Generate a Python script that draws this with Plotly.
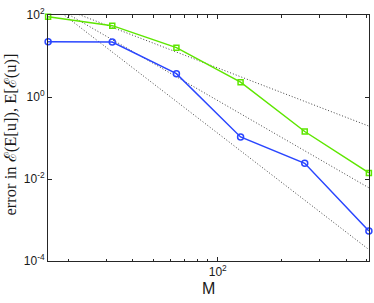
import math
import plotly.graph_objects as go

M = [16, 32, 64, 128, 256, 512]
err_E_of_mean = [91, 55, 16, 2.3, 0.144, 0.0141]      # green, squares
err_mean_of_E = [22.4, 22.0, 3.7, 0.106, 0.0242, 0.00054]  # blue, circles

ref_M = [16, 512]
ref_rate2 = [200, 0.195]
ref_rate3 = [200, 0.0061]
ref_rate4 = [200, 0.00019]

x_minor = [20, 30, 40, 50, 60, 70, 80, 90, 200, 300, 400, 500]
x_ticks = [100]
x_ticktext = ["10<sup>2</sup>"]
y_ticks = [1e-4, 1e-2, 1e0, 1e2]
y_ticktext = ["10<sup>-4</sup>", "10<sup>-2</sup>", "10<sup>0</sup>", "10<sup>2</sup>"]

GREEN = "#5ee600"
BLUE = "#2a46ff"
AX = "#262626"

fig = go.Figure()
for ref in (ref_rate2, ref_rate3, ref_rate4):
    fig.add_trace(go.Scatter(x=ref_M, y=ref, mode="lines",
                             line=dict(color="#444444", width=1, dash="1px,2px"),
                             hoverinfo="skip", showlegend=False))

fig.add_trace(go.Scatter(x=M, y=err_E_of_mean, mode="lines+markers",
                         line=dict(color=GREEN, width=1.5),
                         marker=dict(symbol="square-open", size=5, color=GREEN,
                                     line=dict(width=1.5, color=GREEN)),
                         cliponaxis=False, showlegend=False))
fig.add_trace(go.Scatter(x=M, y=err_mean_of_E, mode="lines+markers",
                         line=dict(color=BLUE, width=1.5),
                         marker=dict(symbol="circle-open", size=6, color=BLUE,
                                     line=dict(width=1.5, color=BLUE)),
                         cliponaxis=False, showlegend=False))

axis_common = dict(showline=True, linecolor=AX, linewidth=1, mirror="ticks",
                   ticks="inside", ticklen=4, tickcolor=AX, tickwidth=1,
                   showgrid=False, zeroline=False,
                   tickfont=dict(family="Liberation Sans, Arial", size=12, color="#1a1a1a"))

xr = [math.log10(M[0]) - 0.0005, math.log10(M[-1]) + 0.0005]
fig.update_xaxes(type="log", range=xr,
                 tickmode="array", tickvals=x_ticks, ticktext=x_ticktext,
                 minor=dict(tickmode="array", tickvals=x_minor, ticks="inside",
                            ticklen=2.5, tickcolor=AX, tickwidth=1),
                 **axis_common)
fig.update_yaxes(type="log", range=[-4, 2],
                 tickmode="array", tickvals=y_ticks, ticktext=y_ticktext,
                 **axis_common)

fig.add_annotation(text="error in ℰ(E[u]), E[ℰ(u)]", textangle=-90,
                   xref="paper", yref="paper", x=-0.117, y=0.516,
                   xanchor="center", yanchor="middle", showarrow=False,
                   font=dict(family="Liberation Serif, Times New Roman", size=16.5, color="#1a1a1a"))
fig.add_annotation(text="M", xref="paper", yref="paper", x=0.5, y=-0.11,
                   xanchor="center", yanchor="middle", showarrow=False,
                   font=dict(family="Liberation Sans, Arial", size=16, color="#1a1a1a"))

fig.update_layout(width=374, height=303,
                  margin=dict(l=48, r=5, t=15, b=42),
                  paper_bgcolor="white", plot_bgcolor="white")

fig.write_html("out.html", config={"responsive": False, "displayModeBar": False},
               post_script="document.body.style.margin='0';document.body.style.overflow='hidden';")
